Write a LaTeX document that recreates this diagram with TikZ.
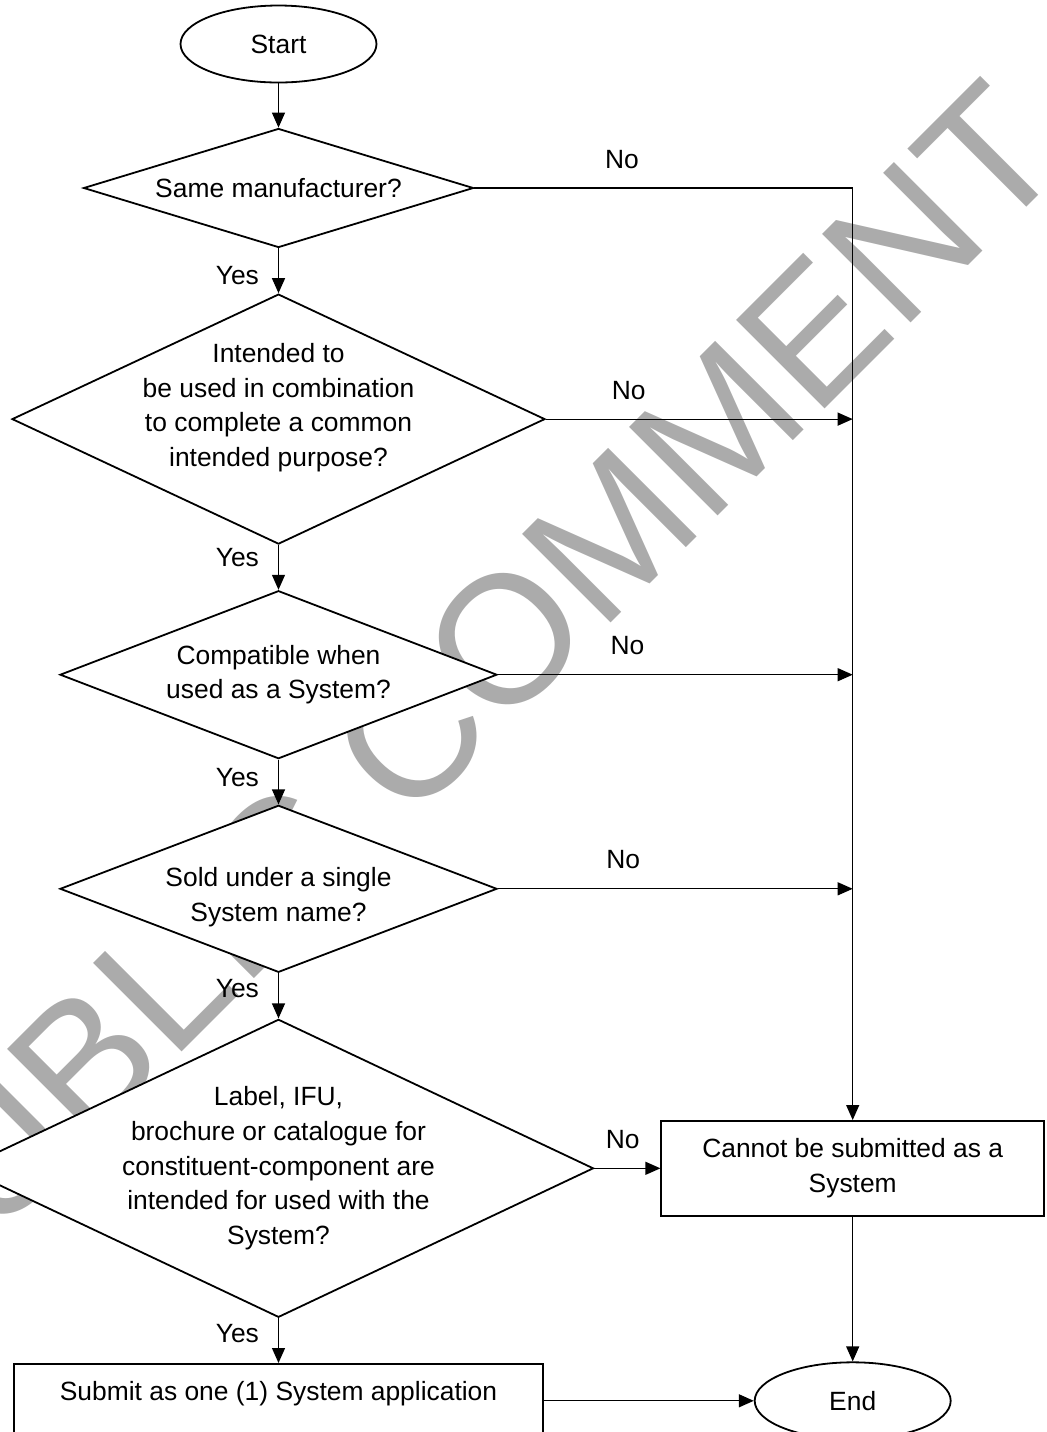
\documentclass[tikz,border=0pt]{standalone}
\usepackage{fontspec}
\setmainfont{Liberation Sans}
\usepackage{tikz}
\usetikzlibrary{arrows.meta, shapes.geometric, positioning}

\begin{document}
\begin{tikzpicture}[
    node distance=22.4pt,
    font=\fontsize{13.2}{17.3}\selectfont,
    terminal/.style={ellipse, draw, line width=0.9pt, fill=white, minimum width=98pt, minimum height=38.5pt},
    decision/.style={diamond, draw, line width=0.9pt, fill=white, align=center, inner sep=-4pt, shape aspect=2.1},
    process/.style={rectangle, draw, line width=0.8pt, fill=white},
    conn/.style={-{Triangle[length=7.5pt, width=6.5pt]}, line width=0.6pt},
    yeslbl/.style={left=9.5pt, inner sep=0pt},
    nolbl/.style={above=9.5pt, inner sep=0pt}
]
    \useasboundingbox (0,0) rectangle (523pt,-716pt);

    % Watermark
    \node[text=black!33, font=\fontsize{91}{91}\selectfont, rotate=45, inner sep=0pt] (wmark) at (222.5pt,-350pt) {PUBLIC COMMENT};

    % Nodes
    \node[terminal] (start) at (139.25pt,-22pt) {Start};
    \node[decision, below=22.1pt of start, minimum width=195pt, minimum height=59.5pt] (same) {Same manufacturer?};
    \node[decision, below=of same, minimum width=266.5pt, minimum height=125pt, inner sep=-7pt, text depth=14pt] (combo) {Intended to\\be used in combination\\to complete a common\\intended purpose?};
    \node[decision, below=of combo, minimum width=218.5pt, minimum height=84pt] (compat) {Compatible when\\used as a System?};
    \node[decision, below=of compat, minimum width=218.5pt, minimum height=83.5pt, text height=35pt] (sold) {Sold under a single\\System name?};
    \node[decision, below=22.6pt of sold, minimum width=315pt, minimum height=149pt] (label) {Label, IFU,\\brochure or catalogue for\\constituent-component are\\intended for used with the\\System?};
    \node[process, below=of label, minimum width=264.5pt, minimum height=37pt, text depth=10pt] (submit) {Submit as one (1) System application};
    \node[process, right=33pt of label, minimum width=191.5pt, minimum height=47.5pt, align=center] (cannot) {Cannot be submitted as a\\System};
    \node[terminal] (end) at (cannot |- submit) {End};

    % Yes arrows
    \draw[conn] (start) -- (same);
    \draw[conn] (same) -- node[yeslbl, pos=0.6] (yes1) {Yes} (combo);
    \draw[conn] (combo) -- node[yeslbl, pos=0.27] (yes2) {Yes} (compat);
    \draw[conn] (compat) -- node[yeslbl, pos=0.41] (yes3) {Yes} (sold);
    \draw[conn] (sold) -- node[yeslbl, pos=0.35] (yes4) {Yes} (label);
    \draw[conn] (label) -- node[yeslbl, pos=0.34] (yes5) {Yes} (submit);

    % No arrows
    \draw[conn] (same.east) -| node[nolbl, pos=0.195] (no1) {No} (cannot.north);
    \draw[conn] (combo.east) -- node[nolbl, pos=0.27] (no2) {No} (combo.east -| cannot.north);
    \draw[conn] (compat.east) -- node[nolbl, pos=0.365] (no3) {No} (compat.east -| cannot.north);
    \draw[conn] (sold.east) -- node[nolbl, pos=0.353] (no4) {No} (sold.east -| cannot.north);
    \draw[conn] (label.east) -- node[nolbl, pos=0.43] (no5) {No} (cannot);

    \draw[conn] (cannot) -- (end);
    \draw[conn] (submit) -- (end);
\end{tikzpicture}
\end{document}
